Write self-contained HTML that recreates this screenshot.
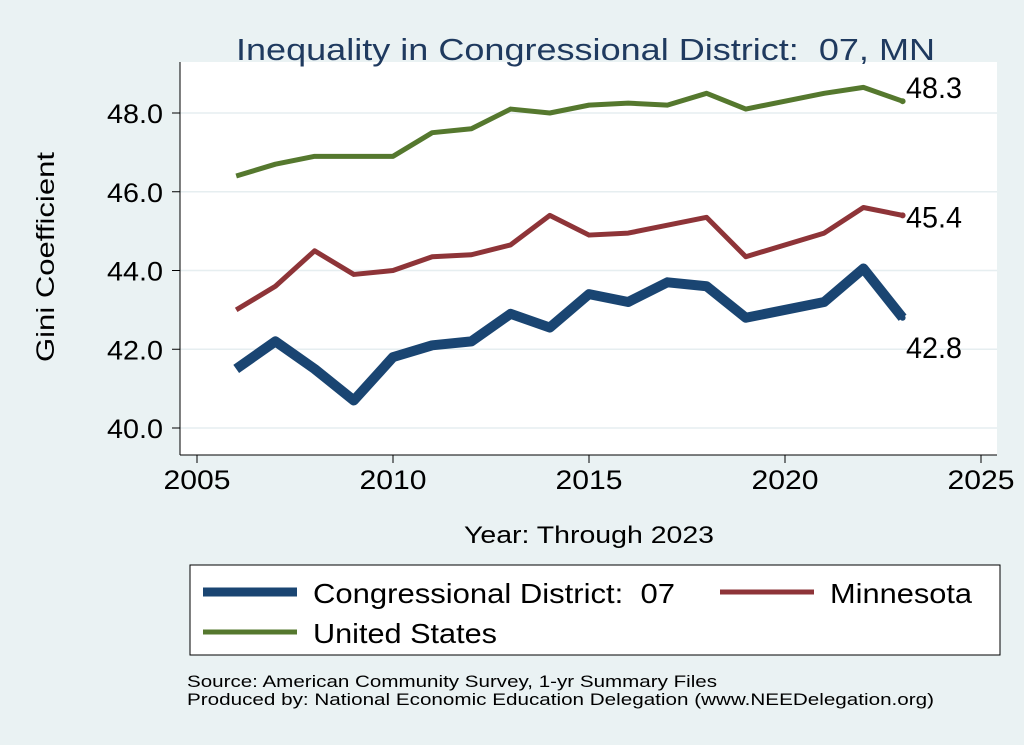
<!DOCTYPE html>
<html><head><meta charset="utf-8"><style>
body{margin:0;background:#eaf2f3;}
svg{display:block;font-family:"Liberation Sans",sans-serif;}
text{white-space:pre;}
</style></head><body>
<svg width="1024" height="745">
<rect x="0" y="0" width="1024" height="745" fill="#eaf2f3"/>
<rect x="180" y="62" width="817" height="393" fill="#fff"/>
<text x="236" y="60" font-size="31" fill="#1f3a5f" textLength="699" lengthAdjust="spacingAndGlyphs">Inequality in Congressional District:  07, MN</text>
<g id="grid"></g><g id="axes"></g><g id="series"></g>
<text transform="translate(54,257) rotate(-90)" font-size="25" text-anchor="middle" textLength="210" lengthAdjust="spacingAndGlyphs">Gini Coefficient</text>
<text x="464" y="543" font-size="24" textLength="250" lengthAdjust="spacingAndGlyphs">Year: Through 2023</text>
<g>
<rect x="190" y="565" width="810" height="90" fill="#fff" stroke="#000" stroke-width="1"/>
<line x1="203" y1="592" x2="297" y2="592" stroke="#1a4572" stroke-width="9"/>
<text x="313" y="603" font-size="28" textLength="362" lengthAdjust="spacingAndGlyphs">Congressional District:  07</text>
<line x1="720" y1="592" x2="814" y2="592" stroke="#8e3438" stroke-width="5"/>
<text x="830" y="603" font-size="28" textLength="142" lengthAdjust="spacingAndGlyphs">Minnesota</text>
<line x1="203" y1="632" x2="297" y2="632" stroke="#55782e" stroke-width="5"/>
<text x="313" y="643" font-size="28" textLength="184" lengthAdjust="spacingAndGlyphs">United States</text>
</g>
<text x="187" y="687" font-size="17" textLength="530" lengthAdjust="spacingAndGlyphs">Source: American Community Survey, 1-yr Summary Files</text>
<text x="187" y="705" font-size="17" textLength="747" lengthAdjust="spacingAndGlyphs">Produced by: National Economic Education Delegation (www.NEEDelegation.org)</text>
</svg>
<script>
const years=[2006,2007,2008,2009,2010,2011,2012,2013,2014,2015,2016,2017,2018,2019,2021,2022,2023];
const usValues=[46.4,46.7,46.9,46.9,46.9,47.5,47.6,48.1,48.0,48.2,48.25,48.2,48.5,48.1,48.5,48.65,48.3];
const mnValues=[43.0,43.6,44.5,43.9,44.0,44.35,44.4,44.65,45.4,44.9,44.95,45.15,45.35,44.35,44.95,45.6,45.4];
const cdValues=[41.5,42.2,41.5,40.7,41.8,42.1,42.2,42.9,42.55,43.4,43.2,43.7,43.6,42.8,43.2,44.05,42.8];
const yTicks=[40,42,44,46,48];
const xTicks=[2005,2010,2015,2020,2025];
const NS="http://www.w3.org/2000/svg";
const xs=v=>197+(v-2005)*39.2;
const ys=v=>428-(v-40)*39.375;
function mk(t,a,p){const e=document.createElementNS(NS,t);for(const k in a)e.setAttribute(k,a[k]);p.appendChild(e);return e;}
const grid=document.getElementById('grid'),axes=document.getElementById('axes'),ser=document.getElementById('series');
mk('line',{x1:180,y1:455,x2:997,y2:455,stroke:'#000'},axes);
mk('line',{x1:180,y1:62,x2:180,y2:455,stroke:'#000'},axes);
yTicks.forEach(v=>{
 const g=mk('line',{x1:180,y1:ys(v),x2:997,y2:ys(v),stroke:'#e6eef0','stroke-width':1.5},grid);
 
 
 mk('line',{x1:172,y1:ys(v),x2:180,y2:ys(v),stroke:'#000'},axes);
 const t=mk('text',{x:107,y:ys(v)+10,'font-size':27,textLength:56,lengthAdjust:'spacingAndGlyphs'},axes);t.textContent=v.toFixed(1);
 
 
});
xTicks.forEach(v=>{
 mk('line',{x1:xs(v),y1:455,x2:xs(v),y2:463,stroke:'#000'},axes);
 const t=mk('text',{x:xs(v)-33.5,y:489,'font-size':27,textLength:67,lengthAdjust:'spacingAndGlyphs'},axes);t.textContent=v;
 
 
});
function line(vals,color,w,name,lx,ly){
 const p=mk('polyline',{points:years.map((y,i)=>xs(y)+','+ys(vals[i])).join(' '),fill:'none',stroke:color,'stroke-width':w,'stroke-linejoin':'round'},ser);
 
 
 const last=vals[vals.length-1];
 mk('circle',{cx:xs(years[years.length-1]),cy:ys(last),r:3,fill:color},ser);
 const t=mk('text',{x:lx,y:ys(last)+ly,'font-size':30,textLength:56,lengthAdjust:'spacingAndGlyphs'},ser);t.textContent=last.toFixed(1);
 
 
}
line(usValues,'#55782e',5,'us-line',906,-3);
line(mnValues,'#8e3438',5,'minnesota-line',906,12);
line(cdValues,'#1a4572',10,'district-line',906,40);
</script>
</body></html>
